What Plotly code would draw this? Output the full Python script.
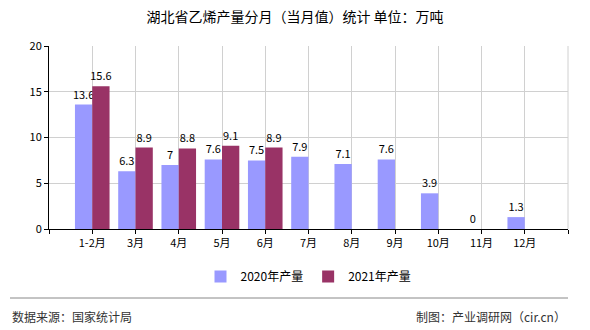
import plotly.graph_objects as go

months = ["1-2月", "3月", "4月", "5月", "6月", "7月", "8月", "9月", "10月", "11月", "12月"]
output_2020 = [13.6, 6.3, 7, 7.6, 7.5, 7.9, 7.1, 7.6, 3.9, 0, 1.3]
output_2021 = [15.6, 8.9, 8.8, 9.1, 8.9]
y_ticks = [0, 5, 10, 15, 20]

CJK = "Noto Sans CJK SC"
pos = list(range(len(months)))

fig = go.Figure()
fig.add_bar(
    x=pos, y=output_2020, name="2020年产量", marker=dict(color="#9999FF", line=dict(width=0)),
    text=[f"{v:g}" for v in output_2020], textposition="outside",
    textfont=dict(family=CJK, size=11, color="#000"), cliponaxis=False,
)
fig.add_bar(
    x=pos[:len(output_2021)], y=output_2021, name="2021年产量",
    marker=dict(color="#993366", line=dict(width=0)),
    text=[f"{v:g}" for v in output_2021], textposition="outside",
    textfont=dict(family=CJK, size=11, color="#000"), cliponaxis=False,
)

tickvals = [-1] + pos + [len(months)]
ticktext = [""] + months + [""]

fig.update_layout(
    width=590, height=330,
    margin=dict(l=49, r=22, t=46, b=101),
    paper_bgcolor="white", plot_bgcolor="white",
    barmode="group", bargap=0.2, bargroupgap=0,
    uniformtext=dict(minsize=11, mode="show"),
    font=dict(family=CJK, size=11, color="#000"),
    title=dict(text="湖北省乙烯产量分月（当月值）统计 单位：万吨", x=0.5, xanchor="center",
               y=1 - 17 / 330, yanchor="middle", font=dict(family=CJK, size=14, color="#000")),
    showlegend=True,
    legend=dict(orientation="h", x=0.5, xanchor="center", y=-0.26, yanchor="middle",
                font=dict(family=CJK, size=12, color="#000"), itemwidth=30,
                traceorder="normal"),
    xaxis=dict(range=[-1, len(months)], tickvals=tickvals, ticktext=ticktext,
               showgrid=True, gridcolor="#d0d0d0", gridwidth=1,
               showline=True, linecolor="#000", linewidth=1,
               ticks="outside", ticklen=4, tickcolor="#000", zeroline=False,
               tickfont=dict(family=CJK, size=11, color="#000")),
    yaxis=dict(range=[0, 20], tickvals=y_ticks, showgrid=True, gridcolor="#d0d0d0", gridwidth=1,
               showline=True, linecolor="#000", linewidth=1,
               ticks="outside", ticklen=4, tickcolor="#000", zeroline=False,
               tickfont=dict(family=CJK, size=11, color="#000")),
    shapes=[
        dict(type="line", xref="paper", yref="paper", x0=1, x1=1, y0=0, y1=1,
             line=dict(color="#d0d0d0", width=1)),
        dict(type="line", xref="paper", yref="paper", x0=-39 / 519, x1=1, y0=-69 / 183, y1=-69 / 183,
             line=dict(color="#888", width=1)),
    ],
    annotations=[
        dict(text="数据来源：国家统计局", xref="paper", yref="paper", x=-39 / 519, y=-87 / 183,
             xanchor="left", yanchor="middle", showarrow=False,
             font=dict(family=CJK, size=12, color="#333")),
        dict(text="制图：产业调研网（cir.cn）", xref="paper", yref="paper", x=1, y=-87 / 183,
             xanchor="right", yanchor="middle", showarrow=False,
             font=dict(family=CJK, size=12, color="#333")),
    ],
)

fig.write_html("out.html")
